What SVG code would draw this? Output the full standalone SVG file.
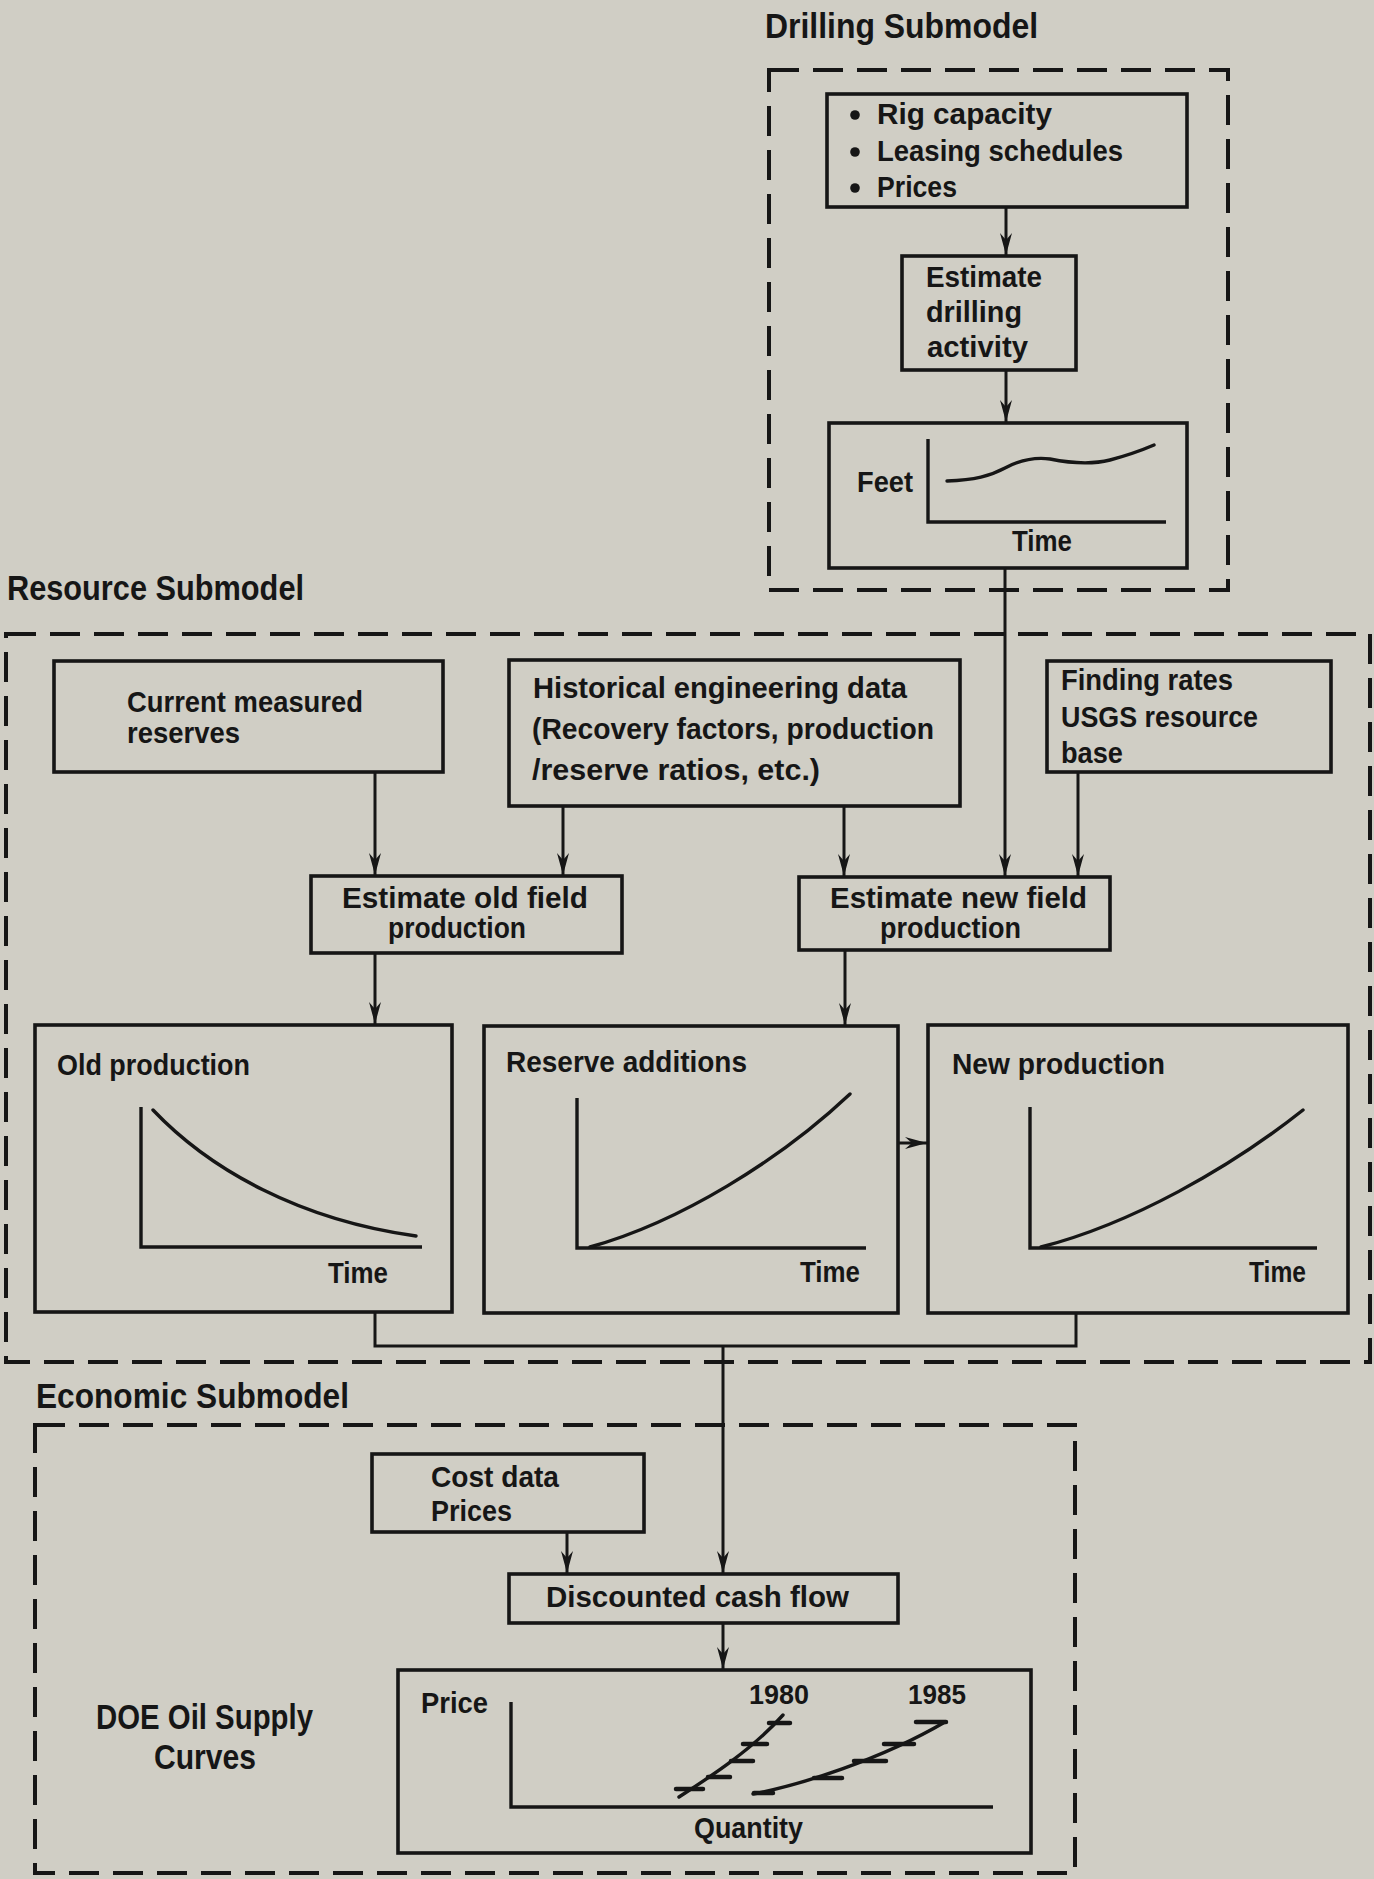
<svg xmlns="http://www.w3.org/2000/svg" width="1374" height="1879" viewBox="0 0 1374 1879">
<style>
  .bg { fill: #d0cec5; }
  .box { fill: none; stroke: #161616; stroke-width: 3.6; }
  .dash { fill: none; stroke: #161616; stroke-width: 4; stroke-dasharray: 30 14; }
  .con { fill: none; stroke: #161616; stroke-width: 3; }
  .axis { fill: none; stroke: #161616; stroke-width: 3.4; }
  .curve { fill: none; stroke: #161616; stroke-width: 3.4; stroke-linecap: round; }
  .tick { fill: none; stroke: #161616; stroke-width: 4.5; stroke-linecap: round; }
  text { font-family: "Liberation Sans", Arial, sans-serif; font-weight: bold; fill: #161616; }
  .t { font-size: 30px; }
  .title { font-size: 35px; }
  .num { font-size: 28px; }
</style>
<defs>
  <marker id="arr" viewBox="-24 -7 26 14" markerUnits="userSpaceOnUse" markerWidth="26" markerHeight="14" refX="0" refY="0" orient="auto">
    <path d="M0,0 L-22,-6 L-15,0 L-22,6 Z" fill="#161616"/>
  </marker>
</defs>
<rect class="bg" x="0" y="0" width="1374" height="1879"/>

<g id="drilling-submodel">
  <rect class="dash" x="769" y="70" width="459" height="520"/>
  <text class="title" x="765" y="38" textLength="273" lengthAdjust="spacingAndGlyphs">Drilling Submodel</text>
</g>
<g id="drilling-inputs">
  <rect class="box" x="827" y="94" width="360" height="113"/>
  <circle cx="855" cy="115" r="4.8" fill="#161616"/>
  <circle cx="855" cy="152" r="4.8" fill="#161616"/>
  <circle cx="855" cy="188" r="4.8" fill="#161616"/>
  <text class="t" x="877" y="124" textLength="175" lengthAdjust="spacingAndGlyphs">Rig capacity</text>
  <text class="t" x="877" y="161" textLength="246" lengthAdjust="spacingAndGlyphs">Leasing schedules</text>
  <text class="t" x="877" y="197" textLength="80" lengthAdjust="spacingAndGlyphs">Prices</text>
</g>
<g id="estimate-drilling">
  <rect class="box" x="902" y="256" width="174" height="114"/>
  <text class="t" x="926" y="287" textLength="116" lengthAdjust="spacingAndGlyphs">Estimate</text>
  <text class="t" x="926" y="322" textLength="96" lengthAdjust="spacingAndGlyphs">drilling</text>
  <text class="t" x="927" y="357" textLength="101" lengthAdjust="spacingAndGlyphs">activity</text>
</g>
<g id="feet-chart">
  <rect class="box" x="829" y="423" width="358" height="145"/>
  <path class="axis" d="M928,439 L928,522 L1166,522"/>
  <path class="curve" d="M947,481 C975,480 990,476 1005,468 C1020,460 1035,457 1050,459 C1070,463 1090,465 1110,460 C1125,456 1140,451 1154,445"/>
  <text class="t" x="857" y="492" textLength="56" lengthAdjust="spacingAndGlyphs">Feet</text>
  <text class="t" x="1012" y="551" textLength="60" lengthAdjust="spacingAndGlyphs">Time</text>
</g>

<g id="resource-submodel">
  <rect class="dash" x="6" y="634" width="1364" height="728"/>
  <text class="title" x="7" y="600" textLength="297" lengthAdjust="spacingAndGlyphs">Resource Submodel</text>
</g>
<g id="current-reserves">
  <rect class="box" x="54" y="661" width="389" height="111"/>
  <text class="t" x="127" y="712" textLength="236" lengthAdjust="spacingAndGlyphs">Current measured</text>
  <text class="t" x="127" y="743" textLength="113" lengthAdjust="spacingAndGlyphs">reserves</text>
</g>
<g id="historical-data">
  <rect class="box" x="509" y="660" width="451" height="146"/>
  <text class="t" x="533" y="698" textLength="374" lengthAdjust="spacingAndGlyphs">Historical engineering data</text>
  <text class="t" x="532" y="739" textLength="402" lengthAdjust="spacingAndGlyphs">(Recovery factors, production</text>
  <text class="t" x="532" y="780" textLength="288" lengthAdjust="spacingAndGlyphs">/reserve ratios, etc.)</text>
</g>
<g id="finding-rates">
  <rect class="box" x="1047" y="661" width="284" height="111"/>
  <text class="t" x="1061" y="690" textLength="172" lengthAdjust="spacingAndGlyphs">Finding rates</text>
  <text class="t" x="1061" y="727" textLength="197" lengthAdjust="spacingAndGlyphs">USGS resource</text>
  <text class="t" x="1061" y="763" textLength="62" lengthAdjust="spacingAndGlyphs">base</text>
</g>
<g id="estimate-old">
  <rect class="box" x="311" y="876" width="311" height="77"/>
  <text class="t" x="342" y="908" textLength="246" lengthAdjust="spacingAndGlyphs">Estimate old field</text>
  <text class="t" x="388" y="938" textLength="138" lengthAdjust="spacingAndGlyphs">production</text>
</g>
<g id="estimate-new">
  <rect class="box" x="799" y="877" width="311" height="73"/>
  <text class="t" x="830" y="908" textLength="257" lengthAdjust="spacingAndGlyphs">Estimate new field</text>
  <text class="t" x="880" y="938" textLength="141" lengthAdjust="spacingAndGlyphs">production</text>
</g>
<g id="old-production">
  <rect class="box" x="35" y="1025" width="417" height="287"/>
  <path class="axis" d="M141,1107 L141,1247 L422,1247"/>
  <path class="curve" d="M153,1110 C210,1170 300,1220 416,1236"/>
  <text class="t" x="57" y="1075" textLength="193" lengthAdjust="spacingAndGlyphs">Old production</text>
  <text class="t" x="328" y="1283" textLength="60" lengthAdjust="spacingAndGlyphs">Time</text>
</g>
<g id="reserve-additions">
  <rect class="box" x="484" y="1026" width="414" height="287"/>
  <path class="axis" d="M577,1098 L577,1248 L866,1248"/>
  <path class="curve" d="M590,1247 C680,1222 780,1160 850,1094"/>
  <text class="t" x="506" y="1072" textLength="241" lengthAdjust="spacingAndGlyphs">Reserve additions</text>
  <text class="t" x="800" y="1282" textLength="60" lengthAdjust="spacingAndGlyphs">Time</text>
</g>
<g id="new-production">
  <rect class="box" x="928" y="1025" width="420" height="288"/>
  <path class="axis" d="M1030,1107 L1030,1248 L1317,1248"/>
  <path class="curve" d="M1041,1247 C1131,1224 1230,1168 1303,1110"/>
  <text class="t" x="952" y="1074" textLength="213" lengthAdjust="spacingAndGlyphs">New production</text>
  <text class="t" x="1249" y="1282" textLength="57" lengthAdjust="spacingAndGlyphs">Time</text>
</g>

<g id="economic-submodel">
  <rect class="dash" x="35" y="1425" width="1040" height="448"/>
  <text class="title" x="36" y="1408" textLength="313" lengthAdjust="spacingAndGlyphs">Economic Submodel</text>
</g>
<g id="cost-data">
  <rect class="box" x="372" y="1454" width="272" height="78"/>
  <text class="t" x="431" y="1487" textLength="128" lengthAdjust="spacingAndGlyphs">Cost data</text>
  <text class="t" x="431" y="1521" textLength="81" lengthAdjust="spacingAndGlyphs">Prices</text>
</g>
<g id="discounted-cash-flow">
  <rect class="box" x="509" y="1574" width="389" height="49"/>
  <text class="t" x="546" y="1607" textLength="303" lengthAdjust="spacingAndGlyphs">Discounted cash flow</text>
</g>
<g id="supply-curves">
  <rect class="box" x="398" y="1670" width="633" height="183"/>
  <path class="axis" d="M511,1702 L511,1807 L993,1807"/>
  <path class="curve" d="M679,1797 C705,1780 750,1752 783,1715"/>
  <path class="curve" d="M753,1794 C800,1785 880,1760 945,1722"/>
  <path class="tick" d="M676,1789 L703,1789 M708,1777 L730,1777 M731,1761 L753,1761 M743,1744 L767,1744 M769,1723 L790,1723"/>
  <path class="tick" d="M754,1793 L773,1793 M814,1778 L842,1778 M854,1761 L886,1761 M884,1744 L914,1744 M916,1722 L946,1722"/>
  <text class="t" x="421" y="1713" textLength="67" lengthAdjust="spacingAndGlyphs">Price</text>
  <text class="t" x="694" y="1838" textLength="109" lengthAdjust="spacingAndGlyphs">Quantity</text>
  <text class="num" x="749" y="1704" textLength="60" lengthAdjust="spacingAndGlyphs">1980</text>
  <text class="num" x="908" y="1704" textLength="58" lengthAdjust="spacingAndGlyphs">1985</text>
</g>
<g id="doe-label">
  <text class="title" x="96" y="1729" textLength="217" lengthAdjust="spacingAndGlyphs">DOE Oil Supply</text>
  <text class="title" x="154" y="1769" textLength="102" lengthAdjust="spacingAndGlyphs">Curves</text>
</g>

<g id="connectors">
  <line class="con" x1="1006" y1="207" x2="1006" y2="255" marker-end="url(#arr)"/>
  <line class="con" x1="1006" y1="370" x2="1006" y2="422" marker-end="url(#arr)"/>
  <line class="con" x1="1005" y1="568" x2="1005" y2="876" marker-end="url(#arr)"/>
  <line class="con" x1="375" y1="772" x2="375" y2="875" marker-end="url(#arr)"/>
  <line class="con" x1="563" y1="806" x2="563" y2="875" marker-end="url(#arr)"/>
  <line class="con" x1="844" y1="806" x2="844" y2="876" marker-end="url(#arr)"/>
  <line class="con" x1="1078" y1="772" x2="1078" y2="876" marker-end="url(#arr)"/>
  <line class="con" x1="375" y1="953" x2="375" y2="1024" marker-end="url(#arr)"/>
  <line class="con" x1="845" y1="950" x2="845" y2="1025" marker-end="url(#arr)"/>
  <line class="con" x1="898" y1="1143" x2="927" y2="1143" marker-end="url(#arr)"/>
  <path class="con" d="M375,1312 L375,1346 L1076,1346 L1076,1313"/>
  <line class="con" x1="723" y1="1346" x2="723" y2="1573" marker-end="url(#arr)"/>
  <line class="con" x1="567" y1="1532" x2="567" y2="1573" marker-end="url(#arr)"/>
  <line class="con" x1="723" y1="1623" x2="723" y2="1669" marker-end="url(#arr)"/>
</g>
</svg>
